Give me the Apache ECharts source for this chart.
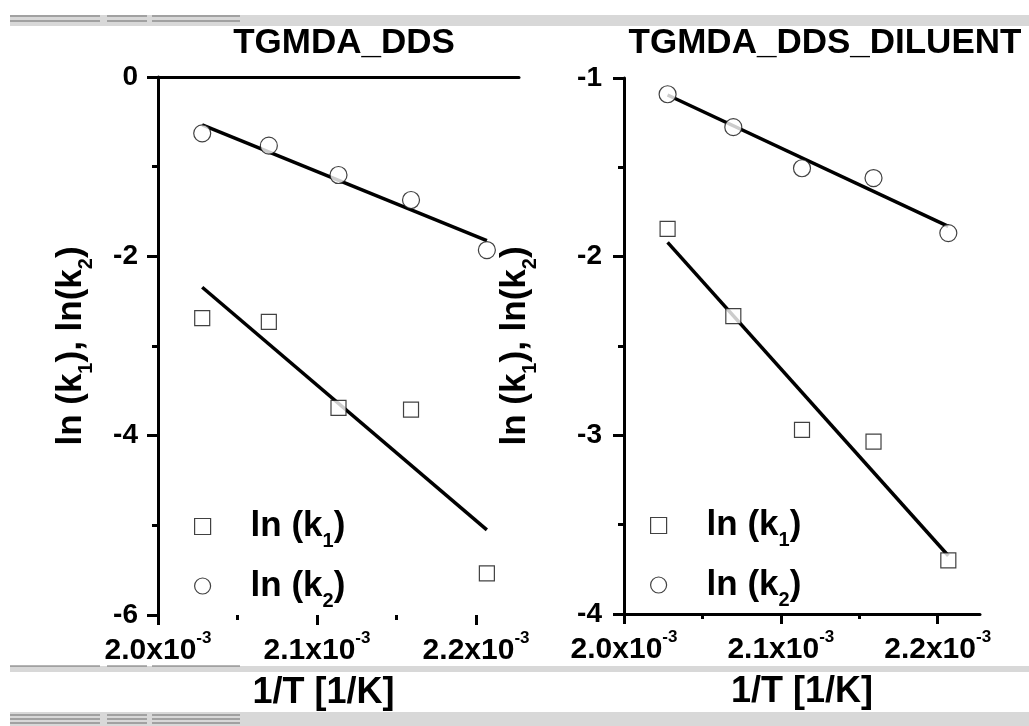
<!DOCTYPE html>
<html>
<head>
<meta charset="utf-8">
<script src="https://cdn.jsdelivr.net/npm/echarts@6/dist/echarts.min.js"></script>
<style>
  html, body { margin: 0; padding: 0; background: #fff; }
  #chart { width: 1029px; height: 726px; }
</style>
</head>
<body>
<div id="chart"></div>
<script>
// 1/T values (1/K), shared by both panels
var invT = [2.0278e-3, 2.0697e-3, 2.1135e-3, 2.1591e-3, 2.2068e-3];

// TGMDA_DDS
var ddsK1 = [-2.69, -2.73, -3.69, -3.71, -5.535];
var ddsK2 = [-0.628, -0.766, -1.093, -1.372, -1.93];
var ddsFitK1 = [-2.345, -5.05];   // fit line at first / last 1/T
var ddsFitK2 = [-0.535, -1.825];

// TGMDA_DDS_DILUENT
var dilK1 = [-1.845, -2.333, -2.97, -3.035, -3.70];
var dilK2 = [-1.091, -1.275, -1.505, -1.56, -1.868];
var dilFitK1 = [-1.92, -3.674];
var dilFitK2 = [-1.095, -1.83];

var xMajor = [2.0e-3, 2.1e-3, 2.2e-3];
var xMinor = [2.05e-3, 2.15e-3];
var xLabels = ['2.0x10', '2.1x10', '2.2x10'];

var FONT = "'Liberation Sans', Arial, sans-serif";

function pts(ys) {
    return ys.map(function (y, i) { return [invT[i], y]; });
}
function fit(ends) {
    return [[invT[0], ends[0]], [invT[invT.length - 1], ends[1]]];
}

var subRich = {
    a: { fontFamily: FONT, fontWeight: 'bold', fontSize: 35, color: '#000', lineHeight: 50, verticalAlign: 'middle' },
    s: { fontFamily: FONT, fontWeight: 'bold', fontSize: 20, color: '#000', lineHeight: 20, verticalAlign: 'bottom' },
    g: { width: 35 }
};

// tick-only x axis (no line, no labels)
function tickAxis(grid, values, len) {
    return {
        type: 'value', gridIndex: grid, min: 2.0e-3, max: 2.227e-3, position: 'bottom',
        axisLine: { show: false },
        axisTick: { customValues: values, length: len, lineStyle: { color: '#000', width: 3 } },
        axisLabel: { show: false },
        splitLine: { show: false }
    };
}

function xAxes(grid, nameShift) {
    return [{
        type: 'value', gridIndex: grid, min: 2.0e-3, max: 2.227e-3, position: 'bottom',
        axisLine: { lineStyle: { color: '#000', width: 3 } },
        axisTick: { show: false },
        axisLabel: {
            customValues: xMajor, margin: 15,
            formatter: function (v) {
                var i = xMajor.findIndex(function (m) { return Math.abs(m - v) < 1e-9; });
                return '{a|' + (i >= 0 ? xLabels[i] : '') + '}{s|-3}';
            },
            rich: {
                a: { fontFamily: FONT, fontWeight: 'bold', fontSize: 30, color: '#000', lineHeight: 36, verticalAlign: 'bottom' },
                s: { fontFamily: FONT, fontWeight: 'bold', fontSize: 17, color: '#000', lineHeight: 17, verticalAlign: 'top' }
            }
        },
        splitLine: { show: false },
        name: '1/T [1/K]', nameLocation: 'middle', nameGap: 60,
        nameTextStyle: { fontFamily: FONT, fontWeight: 'bold', fontSize: 36, color: '#000', padding: [0, nameShift, 0, 0] }
    }, tickAxis(grid, xMinor, 5), tickAxis(grid, xMajor, 10)];
}

function yAxis(grid, min, max, gap, labelMargin) {
    return {
        type: 'value', gridIndex: grid, min: min, max: max, interval: (max - min > 3 ? 2 : 1),
        axisLine: { show: true, lineStyle: { color: '#000', width: 3 } },
        axisTick: { length: 11, lineStyle: { color: '#000', width: 3 } },
        minorTick: { show: true, splitNumber: 2, length: 6, lineStyle: { color: '#000', width: 3 } },
        minorSplitLine: { show: false },
        axisLabel: { margin: labelMargin, fontFamily: FONT, fontWeight: 'bold', fontSize: 28, color: '#000' },
        splitLine: { show: false },
        name: '{a|ln (k}{s|1}{a|), ln(k}{s|2}{a|)}',
        nameLocation: 'middle', nameRotate: 90, nameGap: gap,
        nameTextStyle: { rich: subRich }
    };
}

function scatter(name, data, x, y, symbol, size) {
    return {
        name: name, type: 'scatter', xAxisIndex: x, yAxisIndex: y, data: data,
        symbol: symbol, symbolSize: size,
        itemStyle: { color: '#fff', borderColor: '#111', borderWidth: 1.2 }
    };
}
function fitLine(data, x, y) {
    return {
        type: 'line', xAxisIndex: x, yAxisIndex: y, data: data, showSymbol: false, symbol: 'none',
        lineStyle: { color: '#000', width: 3.5 }, z: 1
    };
}

function legend(left, top) {
    return {
        orient: 'vertical', left: left, top: top, itemGap: 17,
        itemWidth: 16, itemHeight: 16, selectedMode: false,
        data: [
            { name: 'ln (k1)', icon: 'rect', itemStyle: { color: '#fff', borderColor: '#111', borderWidth: 1.2 } },
            { name: 'ln (k2)', icon: 'circle', itemStyle: { color: '#fff', borderColor: '#111', borderWidth: 1.2 } }
        ],
        formatter: function (n) {
            return '{g| }{a|ln (k}{s|' + n.charAt(5) + '}{a|)}';
        },
        textStyle: { rich: subRich }
    };
}

function bar(y, h) {
    return { type: 'rect', shape: { x: 10, y: y, width: 1019, height: h }, style: { fill: '#d8d8d8' }, silent: true };
}
function dash(y) {
    return [[10, 100], [107, 147], [152, 240]].map(function (s) {
        return { type: 'line', shape: { x1: s[0], y1: y, x2: s[1], y2: y }, style: { stroke: '#6a6a6a', lineWidth: 1 }, silent: true };
    });
}

var chart = echarts.init(document.getElementById('chart'), null, { renderer: 'canvas' });
chart.setOption({
    backgroundColor: '#fff',
    animation: false,
    title: [
        { text: 'TGMDA_DDS', left: 339, top: 21, textAlign: 'center',
          textStyle: { fontFamily: FONT, fontWeight: 'bold', fontSize: 35, color: '#000' } },
        { text: 'TGMDA_DDS_DILUENT', left: 820, top: 21, textAlign: 'center',
          textStyle: { fontFamily: FONT, fontWeight: 'bold', fontSize: 35, color: '#000' } }
    ],
    grid: [
        { left: 158, top: 77, width: 361, height: 538 },
        { left: 624, top: 78, width: 356, height: 536 }
    ],
    xAxis: xAxes(0, 30).concat(xAxes(1, 0)),
    yAxis: [yAxis(0, -6, 0, 62, 20), yAxis(1, -4, -1, 84, 22)],
    legend: [legend(189, 504), legend(645, 503)],
    series: [
        fitLine(fit(ddsFitK1), 0, 0),
        fitLine(fit(ddsFitK2), 0, 0),
        scatter('ln (k1)', pts(ddsK1), 0, 0, 'rect', 15),
        scatter('ln (k2)', pts(ddsK2), 0, 0, 'circle', 17),
        fitLine(fit(dilFitK1), 3, 1),
        fitLine(fit(dilFitK2), 3, 1),
        scatter('ln (k1)', pts(dilK1), 3, 1, 'rect', 15),
        scatter('ln (k2)', pts(dilK2), 3, 1, 'circle', 17)
    ],
    graphic: [bar(15, 11), bar(666, 6), bar(712, 14)]
        .concat(dash(16)).concat(dash(21)).concat(dash(666)).concat(dash(715)).concat(dash(719)).concat(dash(723))
});
</script>
</body>
</html>
